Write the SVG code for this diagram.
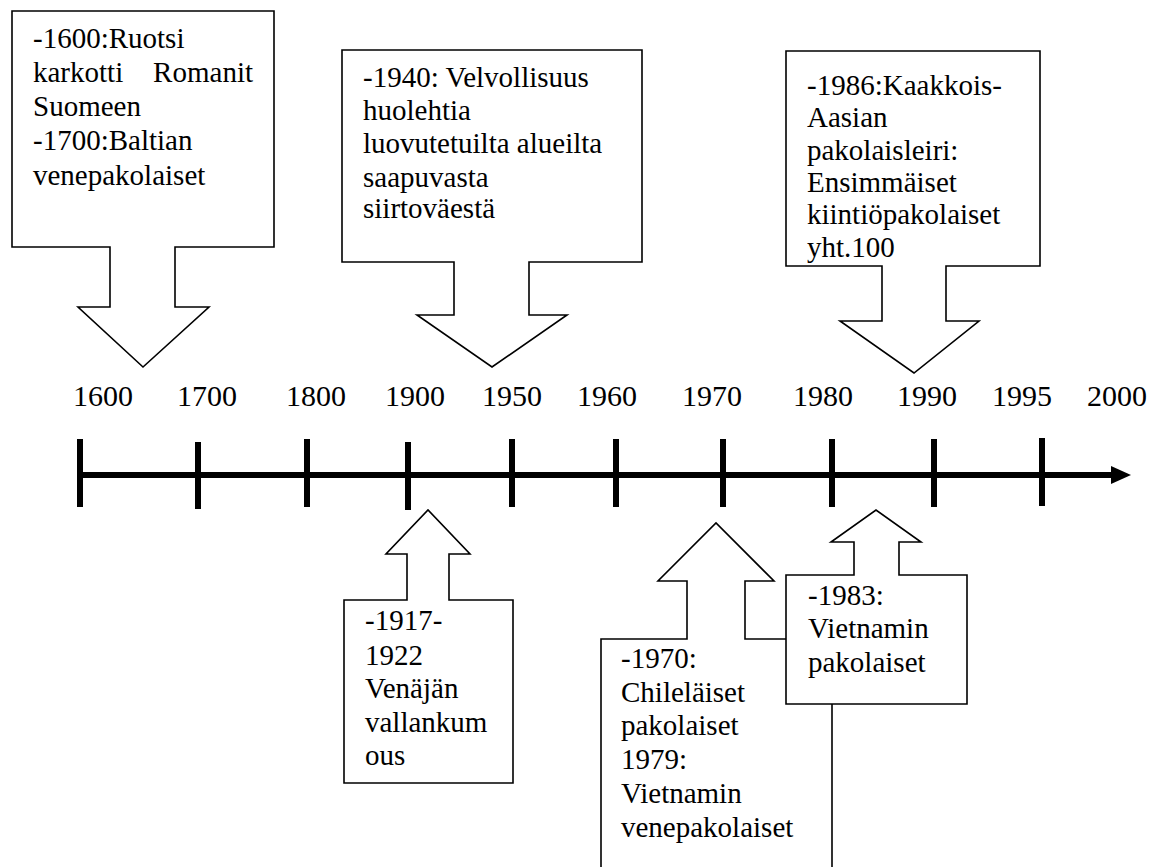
<svg xmlns="http://www.w3.org/2000/svg" width="1159" height="867" viewBox="0 0 1159 867">
<style>
.c{fill:#fff;stroke:#000;stroke-width:1.6;stroke-linejoin:miter}
.t{font-family:'Liberation Serif',Tinos,'Times New Roman',Times,'DejaVu Serif',serif;font-size:29px;fill:#000}
.y{font-family:'Liberation Serif',Tinos,'Times New Roman',Times,'DejaVu Serif',serif;font-size:30px;fill:#000;text-anchor:middle}
.tk{stroke:#000;stroke-width:6}
</style>
<rect width="1159" height="867" fill="#fff"/>
<g id="axis">
<line class="tk" x1="80" y1="475" x2="1114" y2="475"/>
<polygon points="1111,466 1131,475 1111,484" fill="#000"/>
<line class="tk" x1="80" y1="439" x2="80" y2="507"/>
<line class="tk" x1="198" y1="442" x2="198" y2="509"/>
<line class="tk" x1="307" y1="439" x2="307" y2="507"/>
<line class="tk" x1="408" y1="442" x2="408" y2="510"/>
<line class="tk" x1="512" y1="439" x2="512" y2="507"/>
<line class="tk" x1="616" y1="439" x2="616" y2="507"/>
<line class="tk" x1="723" y1="439" x2="723" y2="507"/>
<line class="tk" x1="832" y1="439" x2="832" y2="507"/>
<line class="tk" x1="934" y1="439" x2="934" y2="507"/>
<line class="tk" x1="1042" y1="438" x2="1042" y2="506"/>
</g>
<g id="labels">
<text class="y" x="103" y="406">1600</text>
<text class="y" x="207" y="406">1700</text>
<text class="y" x="316" y="406">1800</text>
<text class="y" x="415" y="406">1900</text>
<text class="y" x="512" y="406">1950</text>
<text class="y" x="607" y="406">1960</text>
<text class="y" x="712" y="406">1970</text>
<text class="y" x="823" y="406">1980</text>
<text class="y" x="927" y="406">1990</text>
<text class="y" x="1022" y="406">1995</text>
<text class="y" x="1117" y="406">2000</text>
</g>
<g id="n1600">
<path class="c" d="M12 11 H274 V247 H175 V307 H209 L143 367 L78 307 H110 V247 H12 Z"/>
<text class="t"><tspan x="33" y="48">-1600:Ruotsi</tspan><tspan x="33" y="82">karkotti</tspan><tspan x="253" y="82" text-anchor="end">Romanit</tspan><tspan x="33" y="116">Suomeen</tspan><tspan x="33" y="150">-1700:Baltian</tspan><tspan x="33" y="185">venepakolaiset</tspan></text>
</g>
<g id="n1940">
<path class="c" d="M342 50 H642 V262 H529 V315 H567 L492 367 L417 315 H454 V262 H342 Z"/>
<text class="t"><tspan x="363" y="87">-1940: Velvollisuus</tspan><tspan x="363" y="120">huolehtia</tspan><tspan x="363" y="153">luovutetuilta alueilta</tspan><tspan x="363" y="187">saapuvasta</tspan><tspan x="363" y="218">siirtoväestä</tspan></text>
</g>
<g id="n1986">
<path class="c" d="M786 51 H1040 V266 H946 V321 H979 L914 373 L840 321 H882 V266 H786 Z"/>
<text class="t"><tspan x="807" y="95">-1986:Kaakkois-</tspan><tspan x="807" y="127">Aasian</tspan><tspan x="807" y="160">pakolaisleiri:</tspan><tspan x="807" y="192">Ensimmäiset</tspan><tspan x="807" y="224">kiintiöpakolaiset</tspan><tspan x="807" y="257">yht.100</tspan></text>
</g>
<g id="n1917">
<path class="c" d="M344 783 V600 H407 V554 H386 L428 510 L470 554 H449 V600 H513 V783 Z"/>
<text class="t"><tspan x="365" y="630">-1917-</tspan><tspan x="365" y="665">1922</tspan><tspan x="365" y="698">Venäjän</tspan><tspan x="365" y="732">vallankum</tspan><tspan x="365" y="765">ous</tspan></text>
</g>
<g id="n1970">
<path class="c" d="M601 890 V639 H687 V581 H658 L716 523 L774 581 H745 V639 H832 V890 Z"/>
<text class="t"><tspan x="621" y="668">-1970:</tspan><tspan x="621" y="702">Chileläiset</tspan><tspan x="621" y="735">pakolaiset</tspan><tspan x="621" y="769">1979:</tspan><tspan x="621" y="803">Vietnamin</tspan><tspan x="621" y="837">venepakolaiset</tspan></text>
</g>
<g id="n1983">
<path class="c" d="M786 704 V575 H854 V542 H831 L876 510 L921 542 H899 V575 H967 V704 Z"/>
<text class="t"><tspan x="808" y="605">-1983:</tspan><tspan x="808" y="638">Vietnamin</tspan><tspan x="808" y="672">pakolaiset</tspan></text>
</g>
</svg>
